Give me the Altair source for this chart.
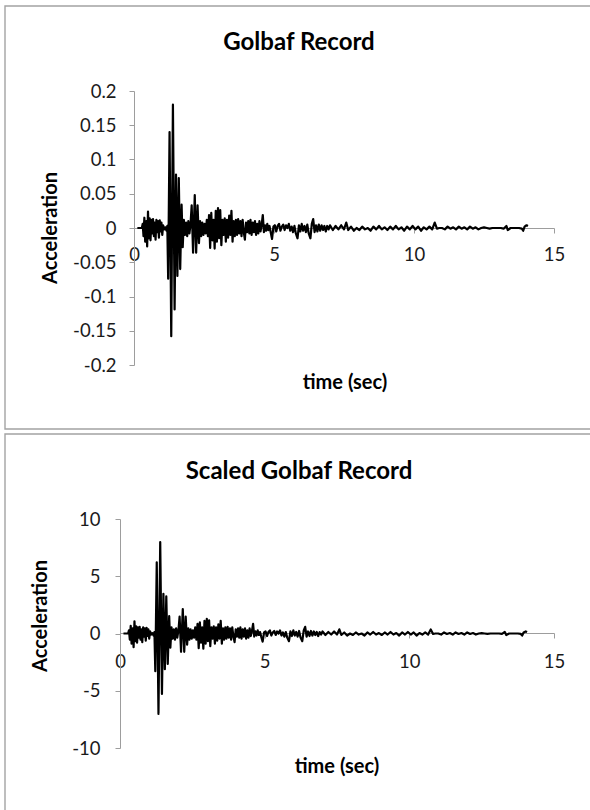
import altair as alt
import pandas as pd

# Golbaf ground-motion record: time (s) and acceleration (g)
TIME = [
    0.12, 0.28, 0.31, 0.34, 0.37, 0.40, 0.44, 0.47, 0.50, 0.53,
    0.56, 0.59, 0.62, 0.65, 0.68, 0.71, 0.74, 0.77, 0.80, 0.83,
    0.86, 0.89, 0.92, 0.95, 0.98, 1.01, 1.04, 1.08, 1.12, 1.16,
    1.19, 1.22, 1.27, 1.33, 1.39, 1.45, 1.50, 1.55, 1.60, 1.65,
    1.70, 1.74, 1.78, 1.82, 1.86, 1.90, 1.94, 1.98, 2.02, 2.06,
    2.11, 2.17, 2.22, 2.27, 2.32, 2.36, 2.40, 2.44, 2.48, 2.52,
    2.56, 2.60, 2.64, 2.68, 2.72, 2.76, 2.80, 2.84, 2.88, 2.92,
    2.96, 3.00, 3.04, 3.08, 3.12, 3.16, 3.20, 3.24, 3.28, 3.32,
    3.36, 3.40, 3.44, 3.48, 3.52, 3.56, 3.60, 3.64, 3.68, 3.72,
    3.76, 3.80, 3.84, 3.88, 3.92, 3.96, 4.00, 4.04, 4.08, 4.12,
    4.16, 4.20, 4.24, 4.28, 4.32, 4.36, 4.40, 4.44, 4.48, 4.52,
    4.56, 4.60, 4.64, 4.68, 4.72, 4.76, 4.80, 4.84, 4.88, 4.93,
    4.98, 5.03, 5.08, 5.13, 5.18, 5.23, 5.28, 5.33, 5.38, 5.43,
    5.48, 5.53, 5.58, 5.63, 5.68, 5.73, 5.78, 5.84, 5.89, 5.94,
    5.99, 6.04, 6.09, 6.14, 6.19, 6.24, 6.30, 6.35, 6.40, 6.45,
    6.50, 6.55, 6.60, 6.65, 6.70, 6.75, 6.80, 6.85, 6.90, 6.95,
    7.00, 7.10, 7.20, 7.30, 7.40, 7.50, 7.58, 7.65, 7.75, 7.85,
    7.95, 8.05, 8.15, 8.25, 8.35, 8.45, 8.55, 8.65, 8.75, 8.85,
    8.95, 9.05, 9.15, 9.25, 9.35, 9.45, 9.55, 9.65, 9.75, 9.85,
    9.95, 10.05, 10.15, 10.25, 10.35, 10.45, 10.55, 10.65, 10.74, 10.82,
    10.90, 11.00, 11.10, 11.20, 11.30, 11.40, 11.50, 11.60, 11.70, 11.80,
    11.90, 12.00, 12.10, 12.20, 12.30, 12.40, 12.50, 12.60, 12.70, 12.80,
    12.90, 13.00, 13.10, 13.20, 13.30, 13.35, 13.45, 13.55, 13.65, 13.75,
    13.85, 13.90, 13.95, 14.02, 14.07,
]

GOLBAF = [
    0.0, 0.0, 0.006, -0.012, 0.015, -0.020, 0.010, -0.027, 0.024, -0.015,
    0.014, -0.018, 0.012, -0.008, 0.013, -0.012, 0.008, -0.017, 0.012, -0.006,
    0.010, -0.014, 0.011, -0.005, 0.008, -0.010, 0.004, -0.002, 0.001, -0.004,
    0.003, -0.074, 0.140, -0.158, 0.180, -0.119, 0.078, -0.070, 0.073, -0.060,
    0.034, -0.028, 0.012, -0.010, 0.008, -0.012, 0.010, -0.008, 0.006, 0.033,
    -0.036, 0.048, -0.036, 0.033, -0.022, 0.010, -0.012, 0.008, -0.010, 0.006,
    -0.008, 0.012, -0.012, 0.019, -0.029, 0.022, -0.018, 0.012, -0.030, 0.025,
    -0.020, 0.029, -0.015, 0.026, -0.025, 0.012, -0.010, 0.014, -0.020, 0.012,
    -0.014, 0.018, -0.010, 0.025, -0.020, 0.010, -0.012, 0.012, -0.010, 0.013,
    -0.008, 0.010, -0.012, 0.012, -0.006, -0.017, 0.008, -0.006, 0.010, -0.008,
    0.012, -0.010, 0.008, -0.006, 0.010, -0.010, 0.006, -0.008, 0.010, -0.005,
    0.005, 0.019, -0.006, 0.004, -0.004, 0.006, -0.003, 0.003, -0.006, -0.016,
    0.002, 0.004, -0.005, 0.003, 0.006, -0.004, 0.002, 0.005, -0.003, 0.004,
    0.000, 0.006, -0.004, 0.002, -0.006, 0.003, -0.008, -0.015, 0.004, -0.005,
    0.006, -0.004, 0.003, -0.006, 0.005, -0.008, -0.015, 0.006, 0.013, -0.006,
    0.004, -0.005, 0.005, -0.004, 0.004, -0.003, 0.003, -0.005, 0.003, -0.002,
    0.004, -0.003, 0.003, -0.002, 0.004, -0.002, 0.008, -0.003, 0.002, -0.004,
    0.000, -0.003, 0.002, -0.002, 0.000, -0.004, 0.002, -0.002, 0.003, -0.002,
    0.001, -0.003, 0.002, -0.002, 0.003, -0.002, 0.001, -0.004, 0.002, -0.002,
    0.003, -0.002, 0.002, -0.004, 0.001, -0.002, 0.002, -0.002, 0.008, -0.001,
    0.000, 0.000, -0.002, 0.002, -0.001, 0.001, -0.002, 0.002, -0.001, 0.001,
    -0.002, 0.002, -0.001, 0.001, -0.002, 0.000, 0.001, 0.000, -0.001, 0.000,
    0.000, 0.000, 0.000, -0.001, 0.003, -0.003, 0.000, 0.000, 0.000, 0.000,
    -0.001, -0.004, 0.002, 0.004, 0.003,
]

# Scaled Golbaf record (same time base)
GOLBAF_SCALED = [
    0.00, 0.00, 0.27, -0.53, 0.67, -0.89, 0.44, -1.20, 1.07, -0.67,
    0.62, -0.80, 0.53, -0.36, 0.58, -0.53, 0.36, -0.75, 0.53, -0.27,
    0.44, -0.62, 0.49, -0.22, 0.36, -0.44, 0.18, -0.09, 0.04, -0.18,
    0.13, -3.29, 6.22, -7.02, 7.99, -5.28, 3.46, -3.11, 3.24, -2.66,
    1.51, -1.24, 0.53, -0.44, 0.36, -0.53, 0.44, -0.36, 0.27, 1.47,
    -1.60, 2.13, -1.60, 1.47, -0.98, 0.44, -0.53, 0.36, -0.44, 0.27,
    -0.36, 0.53, -0.53, 0.84, -1.29, 0.98, -0.80, 0.53, -1.33, 1.11,
    -0.89, 1.29, -0.67, 1.15, -1.11, 0.53, -0.44, 0.62, -0.89, 0.53,
    -0.62, 0.80, -0.44, 1.11, -0.89, 0.44, -0.53, 0.53, -0.44, 0.58,
    -0.36, 0.44, -0.53, 0.53, -0.27, -0.75, 0.36, -0.27, 0.44, -0.36,
    0.53, -0.44, 0.36, -0.27, 0.44, -0.44, 0.27, -0.36, 0.44, -0.22,
    0.22, 0.84, -0.27, 0.18, -0.18, 0.27, -0.13, 0.13, -0.27, -0.71,
    0.09, 0.18, -0.22, 0.13, 0.27, -0.18, 0.09, 0.22, -0.13, 0.18,
    0.00, 0.27, -0.18, 0.09, -0.27, 0.13, -0.36, -0.67, 0.18, -0.22,
    0.27, -0.18, 0.13, -0.27, 0.22, -0.36, -0.67, 0.27, 0.58, -0.27,
    0.18, -0.22, 0.22, -0.18, 0.18, -0.13, 0.13, -0.22, 0.13, -0.09,
    0.18, -0.13, 0.13, -0.09, 0.18, -0.09, 0.36, -0.13, 0.09, -0.18,
    0.00, -0.13, 0.09, -0.09, 0.00, -0.18, 0.09, -0.09, 0.13, -0.09,
    0.04, -0.13, 0.09, -0.09, 0.13, -0.09, 0.04, -0.18, 0.09, -0.09,
    0.13, -0.09, 0.09, -0.18, 0.04, -0.09, 0.09, -0.09, 0.36, -0.04,
    0.00, 0.00, -0.09, 0.09, -0.04, 0.04, -0.09, 0.09, -0.04, 0.04,
    -0.09, 0.09, -0.04, 0.04, -0.09, 0.00, 0.04, 0.00, -0.04, 0.00,
    0.00, 0.00, 0.00, -0.04, 0.13, -0.13, 0.00, 0.00, 0.00, 0.00,
    -0.04, -0.18, 0.09, 0.18, 0.13,
]

TOP_Y_TICKS = [-0.2, -0.15, -0.1, -0.05, 0, 0.05, 0.1, 0.15, 0.2]
BOTTOM_Y_TICKS = [-10, -5, 0, 5, 10]
X_TICKS = [0, 5, 10, 15]

assert len(TIME) == len(GOLBAF) == len(GOLBAF_SCALED)

record = pd.DataFrame({"t": TIME, "acc": GOLBAF, "acc_scaled": GOLBAF_SCALED})

W, H = 590, 810
FONT = "Lato"
AXIS_GRAY = "#9d9d9d"
FRAME_GRAY = "#a3a3a3"
LABEL_COLOR = "#1a1a1a"
TICK_FONT = 18.5
AXIS_TITLE_FONT = 20
CHART_TITLE_FONT = 24

axis_style = dict(
    grid=False,
    domainColor=AXIS_GRAY,
    domainWidth=1,
    tickColor=AXIS_GRAY,
    tickWidth=1,
    tickSize=5,
    labelFont=FONT,
    labelFontSize=TICK_FONT,
    labelColor=LABEL_COLOR,
    labelFlush=False,
    labelOverlap=False,
    title=None,
)

# --- upper panel: original record -------------------------------------------
top_plot = dict(x0=134, x1=554, y_top=91, y_bot=365, y_zero=228)
top_line = alt.Chart(record).mark_line(
    color="black", strokeWidth=2.2, strokeJoin="round"
).encode(
    x=alt.X(
        "t:Q",
        scale=alt.Scale(domain=[0, 15], range=[top_plot["x0"], top_plot["x1"]],
                        nice=False, zero=False),
        axis=alt.Axis(orient="bottom", offset=top_plot["y_zero"] - H,
                      values=X_TICKS, labelPadding=12, **axis_style),
    ),
    y=alt.Y(
        "acc:Q",
        scale=alt.Scale(domain=[-0.2, 0.2], range=[top_plot["y_bot"], top_plot["y_top"]],
                        nice=False, zero=False),
        axis=alt.Axis(orient="left", offset=-top_plot["x0"], values=TOP_Y_TICKS,
                      labelExpr="toString(datum.value)", labelPadding=13, **axis_style),
    ),
)

# --- lower panel: scaled record ---------------------------------------------
bot_plot = dict(x0=120, x1=554, y_top=519, y_bot=748, y_zero=633)
bottom_line = alt.Chart(record).mark_line(
    color="black", strokeWidth=2.2, strokeJoin="round"
).encode(
    x=alt.X(
        "t:Q",
        scale=alt.Scale(domain=[0, 15], range=[bot_plot["x0"], bot_plot["x1"]],
                        nice=False, zero=False),
        axis=alt.Axis(orient="bottom", offset=bot_plot["y_zero"] - H,
                      values=X_TICKS, labelPadding=14, **axis_style),
    ),
    y=alt.Y(
        "acc_scaled:Q",
        scale=alt.Scale(domain=[-10, 10], range=[bot_plot["y_bot"], bot_plot["y_top"]],
                        nice=False, zero=False),
        axis=alt.Axis(orient="left", offset=-bot_plot["x0"], values=BOTTOM_Y_TICKS,
                      labelExpr="toString(datum.value)", labelPadding=15, **axis_style),
    ),
)

one_row = alt.Data(values=[{}])


def frame(x, x2, y, y2):
    return alt.Chart(one_row).mark_rect(
        fillOpacity=0, stroke=FRAME_GRAY, strokeWidth=1.4
    ).encode(x=alt.value(x), x2=alt.value(x2), y=alt.value(y), y2=alt.value(y2))


def label(text, x, y, size, angle=0):
    return alt.Chart(one_row).mark_text(
        text=text, font=FONT, fontSize=size, fontWeight="bold", color="black",
        align="center", baseline="middle", angle=angle,
    ).encode(x=alt.value(x), y=alt.value(y))


chart = alt.layer(
    frame(5, 597, 6, 429),
    frame(5, 597, 434, 870),
    top_line,
    bottom_line,
    label("Golbaf Record", 299, 43, CHART_TITLE_FONT),
    label("Acceleration", 51, 228, AXIS_TITLE_FONT, angle=270),
    label("time (sec)", 345, 383, AXIS_TITLE_FONT),
    label("Scaled Golbaf Record", 299, 472, CHART_TITLE_FONT),
    label("Acceleration", 41, 616, AXIS_TITLE_FONT, angle=270),
    label("time (sec)", 337, 767, AXIS_TITLE_FONT),
).resolve_scale(
    x="independent", y="independent"
).properties(
    width=W, height=H, padding=0, background="white",
    autosize=alt.AutoSizeParams(type="none"),
).configure_view(stroke=None)

chart.save("out.html", embed_options={"renderer": "svg", "actions": False})
